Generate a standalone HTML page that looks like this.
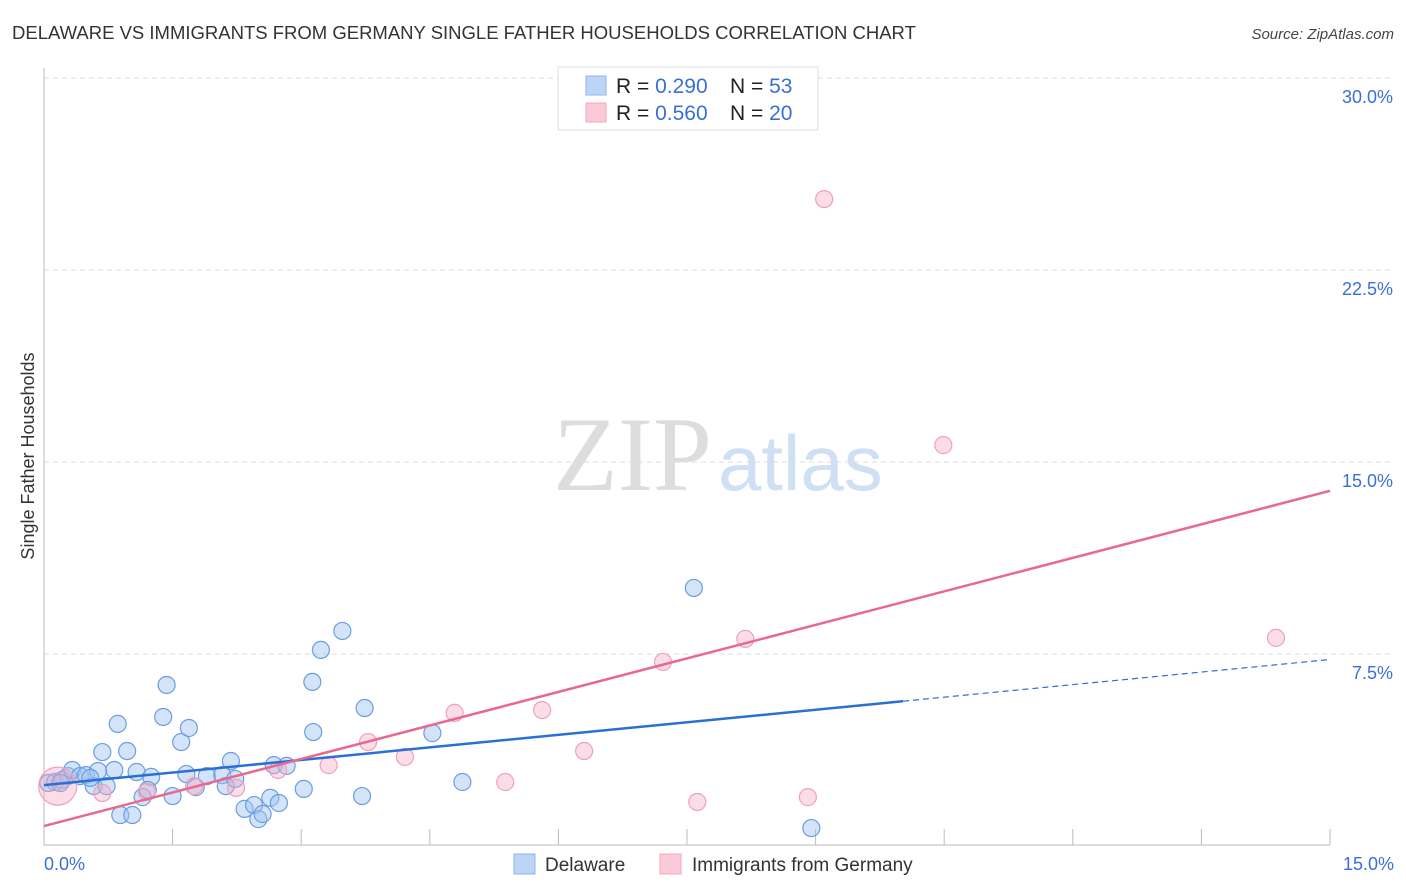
<!DOCTYPE html>
<html><head><meta charset="utf-8">
<style>
body{margin:0;background:#fff;font-family:"Liberation Sans",sans-serif;}
svg{display:block}
</style></head>
<body>
<svg id="chart" width="1406" height="892" xmlns="http://www.w3.org/2000/svg">
<text x="12" y="39" font-size="18.5" fill="#333">DELAWARE VS IMMIGRANTS FROM GERMANY SINGLE FATHER HOUSEHOLDS CORRELATION CHART</text>
<text x="1394" y="39" font-size="15" font-style="italic" fill="#444" text-anchor="end">Source: ZipAtlas.com</text>
<g>
<text x="553" y="490" font-size="106" font-family="Liberation Serif,serif" fill="#ddd">ZIP</text>
<text x="718" y="490" font-size="78" fill="#cfdff4">atlas</text>
</g>
<g id="grid"></g>
<g id="axes"></g>
<g id="marks"></g>
<g id="trends"></g>
<g>
<rect x="558" y="67" width="260" height="63" fill="#fff" stroke="#ddd"/>
<rect x="586" y="76" width="20" height="19" fill="#bcd4f5" stroke="#8fb3e8"/>
<rect x="586" y="103" width="20" height="19" fill="#fcc9d7" stroke="#f2a8bf"/>
<text x="616" y="93" font-size="21" fill="#222">R = <tspan fill="#3a6fd8">0.290</tspan></text>
<text x="730" y="93" font-size="21" fill="#222">N = <tspan fill="#3a6fd8">53</tspan></text>
<text x="616" y="120" font-size="21" fill="#222">R = <tspan fill="#3a6fd8">0.560</tspan></text>
<text x="730" y="120" font-size="21" fill="#222">N = <tspan fill="#3a6fd8">20</tspan></text>
</g>
<text transform="translate(34,456) rotate(-90)" font-size="18" fill="#333" text-anchor="middle">Single Father Households</text>
<g>
<rect x="514" y="854" width="21" height="20" fill="#bcd4f5" stroke="#8fb3e8"/>
<text x="545" y="871" font-size="19" fill="#333">Delaware</text>
<rect x="660" y="854" width="21" height="20" fill="#fcc9d7" stroke="#f2a8bf"/>
<text x="692" y="871" font-size="19" fill="#333">Immigrants from Germany</text>
</g>
</svg>
<script>
const yTicks=[7.5,15,22.5,30];
const yTickLabels=["7.5%","15.0%","22.5%","30.0%"];
const xTickLabels=["0.0%","15.0%"];
const blueX=[0.05,0.13,0.21,0.28,0.33,0.42,0.49,0.58,0.63,0.68,0.73,0.82,0.86,0.97,0.89,1.03,1.08,1.15,1.25,1.21,1.39,1.43,1.50,1.60,1.66,1.69,1.77,1.90,2.08,2.12,2.18,2.23,2.34,2.45,2.50,2.55,2.64,2.74,2.68,2.83,3.03,3.13,3.14,3.23,3.48,3.71,3.74,4.53,4.88,7.58,8.95,0.19,0.54];
const blueY=[2.46,2.50,2.58,2.73,2.97,2.73,2.77,2.34,2.93,3.67,2.34,2.97,4.77,3.71,1.21,1.21,2.89,1.91,2.70,2.19,5.04,6.29,1.95,4.06,2.81,4.61,2.30,2.73,2.77,2.34,3.32,2.62,1.45,1.60,1.05,1.25,1.88,1.68,3.16,3.13,2.23,6.41,4.45,7.66,8.40,1.95,5.39,4.41,2.50,10.08,0.70,2.46,2.66];
const pinkX=[0.16,0.68,1.20,1.75,2.24,2.73,3.32,3.78,4.21,4.79,5.38,5.81,6.30,7.22,7.62,8.18,8.91,9.10,10.49,14.37];
const pinkY=[2.34,2.07,2.11,2.34,2.27,2.97,3.16,4.06,3.48,5.20,2.50,5.31,3.71,7.19,1.72,8.09,1.91,25.27,15.66,8.13];
const blueTrend=[2.38,0.327]; // intercept, slope
const pinkTrend=[0.78,0.873];
const NS="http://www.w3.org/2000/svg";
const X0=44,X1=1330,Y0=846,PXY=192/7.5;
const sx=v=>X0+(X1-X0)*v/15, sy=v=>Y0-v*PXY;
function mk(t,a,p){const e=document.createElementNS(NS,t);for(const k in a)e.setAttribute(k,a[k]);(p||document.getElementById('chart')).appendChild(e);return e;}
const grid=document.getElementById('grid'),axes=document.getElementById('axes'),marks=document.getElementById('marks'),tr=document.getElementById('trends');
yTicks.forEach((v,i)=>{
 const l=mk('line',{x1:X0,x2:1392,y1:sy(v),y2:sy(v),stroke:'#ddd','stroke-dasharray':'5,4'},grid);
 
 
 const t=mk('text',{x:1393,y:sy(v)+25,'font-size':18,fill:'#3a6fd8','text-anchor':'end'},axes);
 
 
 t.textContent=yTickLabels[i];
});
const ax=mk('line',{x1:X0,x2:X0,y1:68,y2:845,stroke:'#bbb'},axes);


const bx=mk('line',{x1:X0,x2:X1,y1:845,y2:845,stroke:'#bbb'},axes);


for(let i=1;i<=10;i++){const t=mk('line',{x1:sx(i*1.5),x2:sx(i*1.5),y1:829,y2:845,stroke:'#bbb'},axes);
 
 }
[[0,'start',44],[15,'end',1394]].forEach((d,i)=>{const t=mk('text',{x:d[2],y:870,'font-size':18,fill:'#3a6fd8','text-anchor':d[1]},axes);
 
 
 t.textContent=xTickLabels[i];});
blueX.forEach((x,i)=>{const c=mk('circle',{cx:sx(x),cy:sy(blueY[i]),r:8.5,fill:'rgba(160,196,240,0.45)',stroke:'#6b9de0','stroke-width':1.2},marks);
 
 });
pinkX.forEach((x,i)=>{const c=mk('circle',{cx:sx(x),cy:sy(pinkY[i]),r:i==0?19:8.5,fill:'rgba(246,170,196,0.4)',stroke:'#f0a0bc','stroke-width':1.2},marks);
 
 });
const bS=mk('line',{x1:sx(0),y1:sy(blueTrend[0]),x2:sx(10.02),y2:sy(blueTrend[0]+blueTrend[1]*10.02),stroke:'#2a6fd6','stroke-width':2.5},tr);


const bD=mk('line',{x1:sx(10.02),y1:sy(blueTrend[0]+blueTrend[1]*10.02),x2:sx(15),y2:sy(blueTrend[0]+blueTrend[1]*15),stroke:'#2a6fd6','stroke-width':1.2,'stroke-dasharray':'6,4'},tr);


const pL=mk('line',{x1:sx(0),y1:sy(pinkTrend[0]),x2:sx(15),y2:sy(pinkTrend[0]+pinkTrend[1]*15),stroke:'#e86890','stroke-width':2.5},tr);


</script>
</body></html>
